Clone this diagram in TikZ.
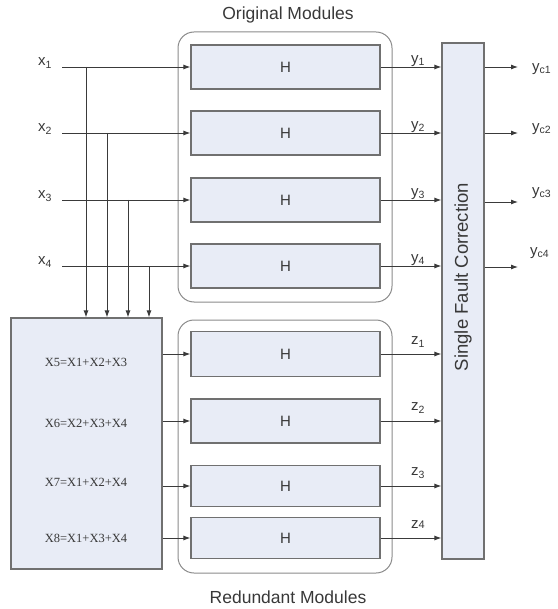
\documentclass[tikz,border=0pt]{standalone}
\usepackage{fontspec}
\setmainfont{Liberation Sans}
\newfontfamily\eqfont{Liberation Serif}
\usetikzlibrary{arrows.meta}
\definecolor{boxfill}{HTML}{E8ECF6}
\definecolor{boxline}{HTML}{707070}
\definecolor{grpline}{HTML}{8A8A8A}
\definecolor{wire}{HTML}{3A3A3A}
\definecolor{txt}{HTML}{383838}
\tikzset{
  hbox/.style={draw=boxline, fill=boxfill, line width=1.2pt, minimum width=189pt, inner sep=0pt, font=\fontsize{15}{15}\selectfont, text=txt},
  grp/.style={draw=grpline, line width=1pt, rounded corners=16pt},
  wirearrow/.style={draw=wire, line width=0.9pt, -{Latex[length=7pt,width=5pt]}},
  lbl/.style={font=\fontsize{15}{15}\selectfont, text=txt, inner sep=0pt},
  eq/.style={font=\eqfont\fontsize{12.5}{12.5}\selectfont, text=txt, inner sep=0pt},
  title/.style={font=\fontsize{17.5}{17.5}\selectfont, text=txt, inner sep=0pt}
}
\begin{document}
\begin{tikzpicture}[x=1pt,y=-1pt]
\useasboundingbox (0,0) rectangle (557,609);
% groups
\draw[grp] (178,32) rectangle (392,302);
\draw[grp] (178,320) rectangle (392,573);
\node[title] (t1) at (288,15) {Original Modules};
\node[title] (t2) at (288,597) {Redundant Modules};
% H boxes
\node[hbox, minimum height=44pt] (h1) at (285.5,67) {H};
\node[hbox, minimum height=44pt] (h2) at (285.5,133) {H};
\node[hbox, minimum height=44pt] (h3) at (285.5,200) {H};
\node[hbox, minimum height=44pt] (h4) at (285.5,266) {H};
\node[hbox, minimum height=45pt] (h5) at (285.5,354) {H};
\node[hbox, minimum height=44pt] (h6) at (285.5,421) {H};
\node[hbox, minimum height=41pt] (h7) at (285.5,486) {H};
\node[hbox, minimum height=41pt] (h8) at (285.5,538) {H};
% SFC box
\node[draw=boxline, fill=boxfill, line width=1.2pt, minimum width=42pt, minimum height=516pt, inner sep=0pt] (sfc) at (463,301) {};
\node[title, font=\fontsize{18.5}{18.5}\selectfont, rotate=90] (sfct) at (463,277) {Single Fault Correction};
% encoder
\node[draw=boxline, fill=boxfill, line width=1.2pt, minimum width=151pt, minimum height=251pt, inner sep=0pt] (enc) at (86.5,443.5) {};
\node[eq] (e5) at (86,362) {X5=X1+X2+X3};
\node[eq] (e6) at (86,423) {X6=X2+X3+X4};
\node[eq] (e7) at (86,482) {X7=X1+X2+X4};
\node[eq] (e8) at (86,538) {X8=X1+X3+X4};
% inputs
\node[lbl] (x1) at (45,63) {x\textsubscript{1}};
\node[lbl] (x2) at (45,129) {x\textsubscript{2}};
\node[lbl] (x3) at (45,196) {x\textsubscript{3}};
\node[lbl] (x4) at (45,262) {x\textsubscript{4}};
\coordinate (i1) at (62,67);
\coordinate (i2) at (62,133);
\coordinate (i3) at (62,200);
\coordinate (i4) at (62,266);
\draw[wirearrow] (i1) -- (h1.west);
\draw[wirearrow] (i2) -- (h2.west);
\draw[wirearrow] (i3) -- (h3.west);
\draw[wirearrow] (i4) -- (h4.west);
% branches down to encoder
\coordinate (b1) at (86,67);
\coordinate (b2) at (107,133);
\coordinate (b3) at (128,200);
\coordinate (b4) at (149,266);
\draw[wirearrow] (b1) -- (b1 |- enc.north);
\draw[wirearrow] (b2) -- (b2 |- enc.north);
\draw[wirearrow] (b3) -- (b3 |- enc.north);
\draw[wirearrow] (b4) -- (b4 |- enc.north);
% encoder to redundant
\draw[wirearrow] (enc.east |- h5.west) -- (h5.west);
\draw[wirearrow] (enc.east |- h6.west) -- (h6.west);
\draw[wirearrow] (enc.east |- h7.west) -- (h7.west);
\draw[wirearrow] (enc.east |- h8.west) -- (h8.west);
% outputs y
\draw[wirearrow] (h1.east) -- (h1.east -| sfc.west);
\draw[wirearrow] (h2.east) -- (h2.east -| sfc.west);
\draw[wirearrow] (h3.east) -- (h3.east -| sfc.west);
\draw[wirearrow] (h4.east) -- (h4.east -| sfc.west);
\node[lbl] (y1) at (418,61) {y\textsubscript{1}};
\node[lbl] (y2) at (418,127) {y\textsubscript{2}};
\node[lbl] (y3) at (418,194) {y\textsubscript{3}};
\node[lbl] (y4) at (418,260) {y\textsubscript{4}};
% outputs z
\draw[wirearrow] (h5.east) -- (h5.east -| sfc.west);
\draw[wirearrow] (h6.east) -- (h6.east -| sfc.west);
\draw[wirearrow] (h7.east) -- (h7.east -| sfc.west);
\draw[wirearrow] (h8.east) -- (h8.east -| sfc.west);
\node[lbl] (z1) at (418,342) {z\textsubscript{1}};
\node[lbl] (z2) at (418,408) {z\textsubscript{2}};
\node[lbl] (z3) at (418,473) {z\textsubscript{3}};
\node[lbl] (z4) at (418,525) {z{\fontsize{11}{11}\selectfont 4}};
% corrected outputs
\coordinate (o1) at (518,67);
\coordinate (o2) at (518,133);
\coordinate (o3) at (518,202);
\coordinate (o4) at (518,267);
\draw[wirearrow] (o1 -| sfc.east) -- (o1);
\draw[wirearrow] (o2 -| sfc.east) -- (o2);
\draw[wirearrow] (o3 -| sfc.east) -- (o3);
\draw[wirearrow] (o4 -| sfc.east) -- (o4);
\node[lbl, anchor=west] (yc1) at (532,69) {y\textsubscript{c1}};
\node[lbl, anchor=west] (yc2) at (532,129) {y\textsubscript{c2}};
\node[lbl, anchor=west] (yc3) at (532,193) {y\textsubscript{c3}};
\node[lbl, anchor=west] (yc4) at (530,253) {y\textsubscript{c4}};
\end{tikzpicture}
\end{document}
